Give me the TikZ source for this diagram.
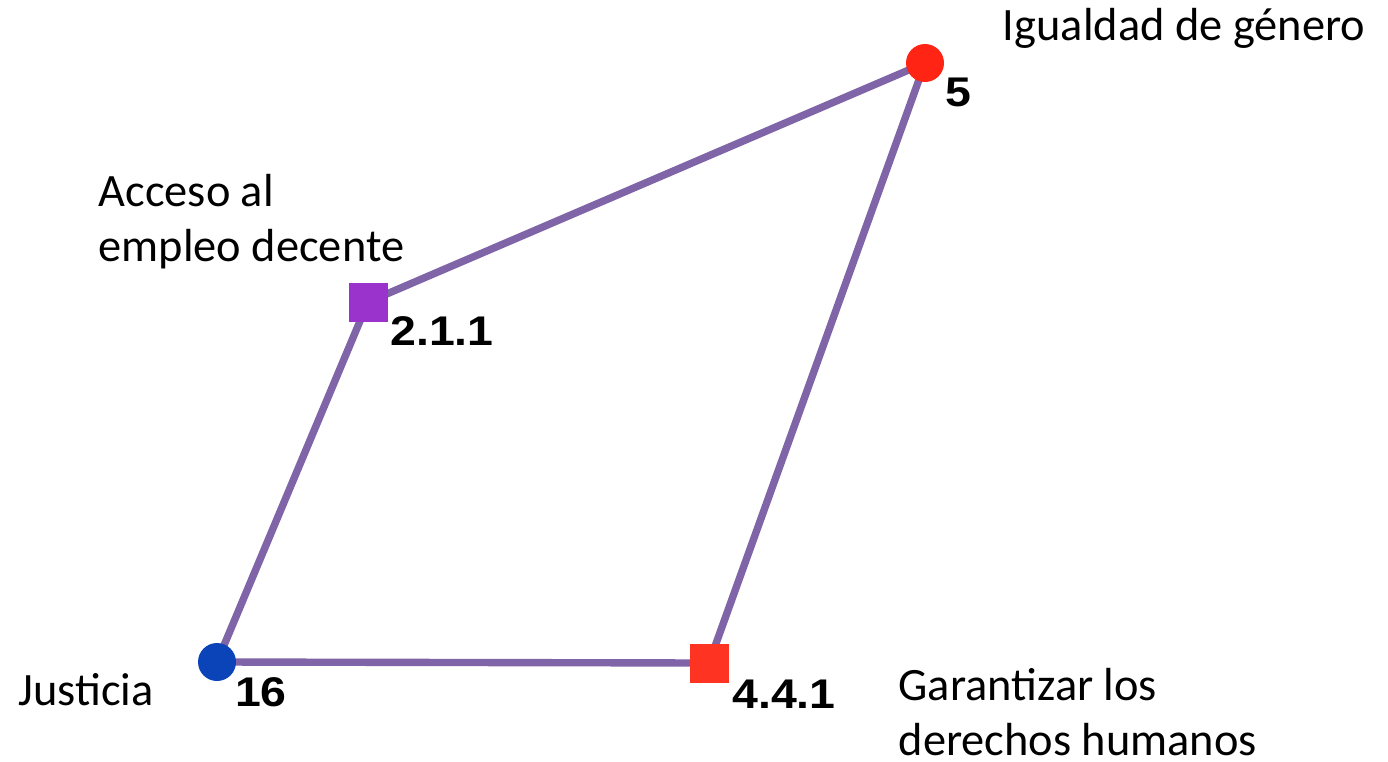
\documentclass[tikz,border=0pt]{standalone}
\usepackage{fontspec}
\setmainfont{Carlito}
\newfontfamily\numfont{Liberation Sans}
\usetikzlibrary{positioning, backgrounds}
\definecolor{linkpurple}{HTML}{8064A8}
\definecolor{dotred}{HTML}{FF2414}
\definecolor{sqpurple}{HTML}{9933CC}
\definecolor{dotblue}{HTML}{0A44B8}
\definecolor{sqred}{HTML}{FF3322}

\begin{document}
\begin{tikzpicture}[
  link/.style={linkpurple, line width=2.1pt},
  dot/.style={circle, inner sep=0pt, minimum size=0.38cm},
  sq/.style={rectangle, inner sep=0pt, minimum size=0.39cm},
  idlabel/.style={font=\numfont\bfseries\fontsize{11.8}{13}\selectfont, xscale=1.12, inner sep=0pt},
  goal/.style={font=\fontsize{13.2}{15.6}\selectfont, align=left, inner sep=0pt},
]

% Canvas
\useasboundingbox (0,0) rectangle (13.88,7.61);

% Markers
\node[dot, fill=dotred] (n5) at (9.25,6.98) {};
\node[sq, fill=sqpurple] (n211) at (3.68,4.59) {};
\node[dot, fill=dotblue] (n16) at (2.17,0.99) {};
\node[sq, fill=sqred] (n441) at (7.09,0.98) {};

% Connections, behind the markers
\begin{scope}[on background layer]
  \fill[white] (0,0) rectangle (13.88,7.61);
  \draw[link] (n5.center) -- (n211.center);
  \draw[link] (n211.center) -- (n16.center);
  \draw[link] (n16.center) -- (n441.center);
  \draw[link] (n441.center) -- (n5.center);
\end{scope}

% Codes
\node[idlabel] (c5) at (9.58,6.69) {5};
\node[idlabel] (c211) at (4.42,4.30) {2.1.1};
\node[idlabel] (c16) at (2.61,0.69) {16};
\node[idlabel] (c441) at (7.84,0.67) {4.4.1};

% Goal names
\node[goal] (g5) at (11.84,7.33) {Igualdad de género};
\node[goal, anchor=west] (g211) at (0.98,5.39) {Acceso al\\empleo decente};
\node[goal] (g16) at (0.86,0.71) {Justicia};
\node[goal, anchor=west] (g441) at (8.98,0.49) {Garantizar los\\derechos humanos};

\end{tikzpicture}
\end{document}
